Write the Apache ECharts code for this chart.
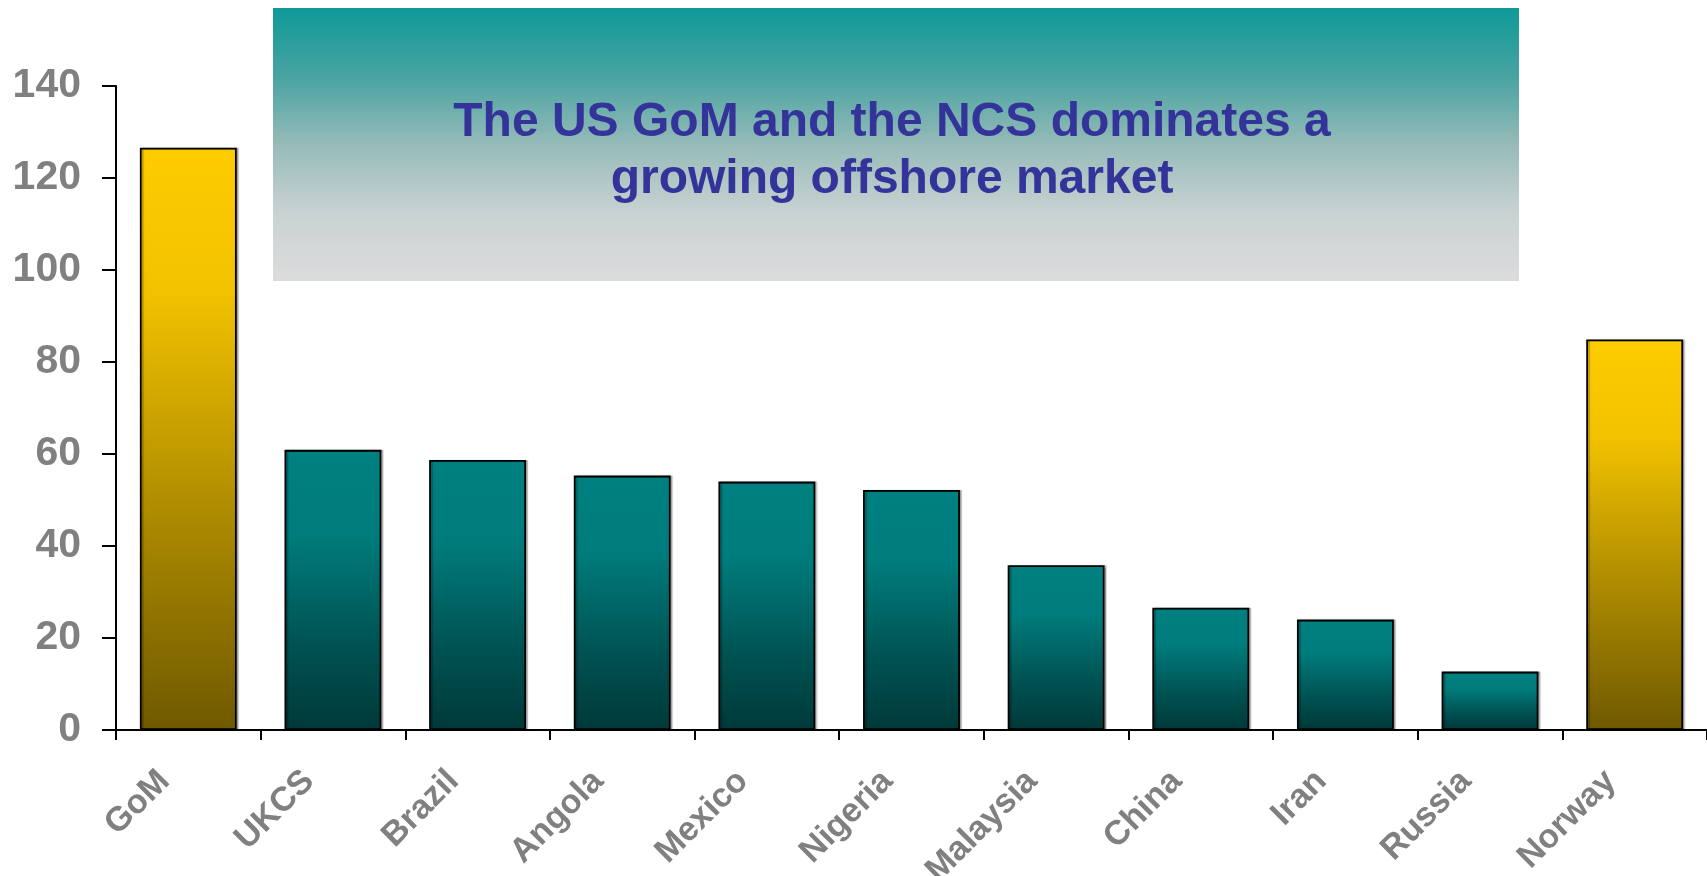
<!DOCTYPE html>
<html>
<head>
<meta charset="utf-8">
<script src="https://cdn.jsdelivr.net/npm/echarts@6/dist/echarts.min.js"></script>
<style>
html,body{margin:0;padding:0;background:#fff;}
#chart{width:1707px;height:876px;}
</style>
</head>
<body>
<div id="chart"></div>
<script>
var categories = ['GoM','UKCS','Brazil','Angola','Mexico','Nigeria','Malaysia','China','Iran','Russia','Norway'];
var values = [126.6, 60.9, 58.7, 55.3, 54.0, 52.2, 35.8, 26.6, 24.0, 12.7, 84.9];
var highlighted = ['GoM','Norway'];
var yTicks = [0, 20, 40, 60, 80, 100, 120, 140];
var titleText = 'The US GoM and the NCS dominates a\ngrowing offshore market';

var yellowGrad = new echarts.graphic.LinearGradient(0,0,0,1,[
  {offset:0, color:'#FFCC00'},
  {offset:0.25, color:'#F2C200'},
  {offset:0.6, color:'#B28F00'},
  {offset:1, color:'#6F5900'}
]);
var tealGrad = new echarts.graphic.LinearGradient(0,0,0,1,[
  {offset:0, color:'#008080'},
  {offset:0.3, color:'#007C7C'},
  {offset:0.7, color:'#005252'},
  {offset:1, color:'#003939'}
]);

var barData = categories.map(function(c,i){
  return {
    value: values[i],
    itemStyle: {color: highlighted.indexOf(c) >= 0 ? yellowGrad : tealGrad}
  };
});

var chart = echarts.init(document.getElementById('chart'));
chart.setOption({
  animation:false,
  grid:{left:116, right:0, top:86, bottom:146, containLabel:false, outerBoundsMode:'none'},
  xAxis:{
    type:'category',
    data:categories,
    axisLine:{lineStyle:{color:'#000', width:2}},
    axisTick:{show:true, length:10, interval:0, lineStyle:{color:'#000', width:2}},
    axisLabel:{
      interval:0, rotate:45, margin:22,
      color:'#808080', fontWeight:'bold', fontSize:34,
      fontFamily:'Liberation Sans, Arial, sans-serif',
      padding:[0,34,0,0]
    }
  },
  yAxis:{
    type:'value',
    min:yTicks[0], max:yTicks[yTicks.length-1], interval:yTicks[1]-yTicks[0],
    axisLine:{show:true, lineStyle:{color:'#000', width:2}},
    axisTick:{show:true, length:14, lineStyle:{color:'#000', width:2}},
    splitLine:{show:false},
    axisLabel:{
      margin:35, color:'#808080', fontWeight:'bold', fontSize:41,
      fontFamily:'Liberation Sans, Arial, sans-serif'
    }
  },
  series:[{
    type:'bar',
    data:barData,
    barWidth:'67%',
    itemStyle:{borderColor:'#000', borderWidth:1.8, shadowColor:'rgba(0,0,0,0.25)', shadowOffsetX:2, shadowOffsetY:0, shadowBlur:1}
  }],
  graphic:[
    {
      type:'rect',
      shape:{x:273, y:8, width:1246, height:273},
      style:{fill:new echarts.graphic.LinearGradient(0,0,0,1,[
        {offset:0, color:'#0E9A98'},
        {offset:0.25, color:'#48A3A1'},
        {offset:0.5, color:'#96BBB9'},
        {offset:0.75, color:'#C9D2D2'},
        {offset:1, color:'#DCDCDC'}
      ])},
      z:10
    },
    {
      type:'text',
      x:892, y:151,
      style:{
        text:titleText,
        fill:'#333399',
        font:'bold 48px "Liberation Sans", Arial, sans-serif',
        lineHeight:57,
        align:'center',
        verticalAlign:'middle'
      },
      z:11
    }
  ]
});
</script>
</body>
</html>
